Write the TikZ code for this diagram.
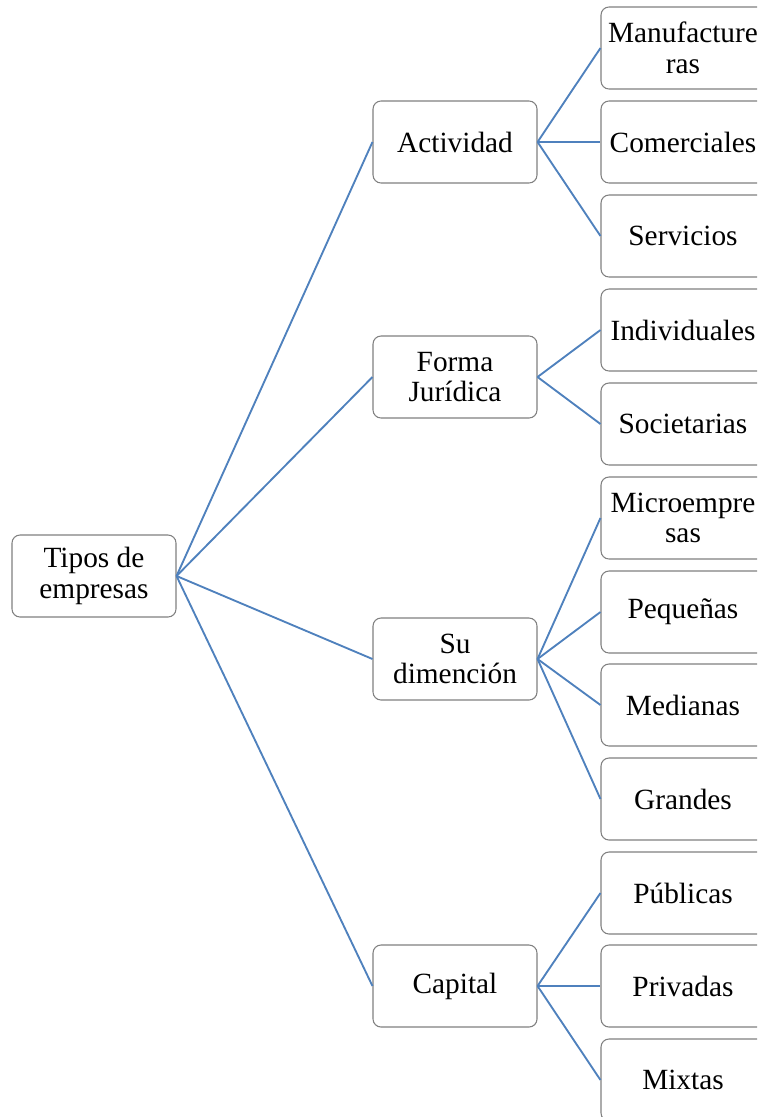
\documentclass[tikz,border=0pt]{standalone}
\usepackage{fontspec}
\setmainfont{Liberation Serif}
\usepackage{tikz}
\definecolor{linkblue}{RGB}{79, 129, 189}
\definecolor{boxgray}{RGB}{128, 128, 128}

\begin{document}
\begin{tikzpicture}[x=0.75pt, y=-0.75pt,
    box/.style={draw=boxgray, line width=0.8pt, rounded corners=6pt, fill=white,
        minimum width=123pt, minimum height=61.5pt, inner sep=0pt, align=center,
        font=\fontsize{22}{23}\selectfont},
    link/.style={draw=linkblue, line width=1.4pt}]
    \useasboundingbox (0,0) rectangle (757,1117);
    \clip (0,0) rectangle (757,1117);

    \node[box] (tipos) at (94,576) {Tipos de\\empresas};

    \node[box] (activ) at (455,142) {Actividad};
    \node[box] (forma) at (455,377) {Forma\\Jurídica};
    \node[box] (dimen) at (455,659) {Su\\dimención};
    \node[box] (capit) at (455,986) {Capital};

    \node[box] (manuf) at (683,48) {Manufacture\\ras};
    \node[box] (comer) at (683,142) {Comerciales};
    \node[box] (servi) at (683,236) {Servicios};
    \node[box] (indiv) at (683,330) {Individuales};
    \node[box] (socie) at (683,424) {Societarias};
    \node[box] (micro) at (683,518) {Microempre\\sas};
    \node[box] (peque) at (683,612) {Pequeñas};
    \node[box] (media) at (683,705) {Medianas};
    \node[box] (grand) at (683,799) {Grandes};
    \node[box] (publi) at (683,893) {Públicas};
    \node[box] (priva) at (683,986) {Privadas};
    \node[box] (mixta) at (683,1080) {Mixtas};

    \draw[link] (tipos.east) -- (activ.west);
    \draw[link] (tipos.east) -- (forma.west);
    \draw[link] (tipos.east) -- (dimen.west);
    \draw[link] (tipos.east) -- (capit.west);

    \draw[link] (activ.east) -- (manuf.west);
    \draw[link] (activ.east) -- (comer.west);
    \draw[link] (activ.east) -- (servi.west);

    \draw[link] (forma.east) -- (indiv.west);
    \draw[link] (forma.east) -- (socie.west);

    \draw[link] (dimen.east) -- (micro.west);
    \draw[link] (dimen.east) -- (peque.west);
    \draw[link] (dimen.east) -- (media.west);
    \draw[link] (dimen.east) -- (grand.west);

    \draw[link] (capit.east) -- (publi.west);
    \draw[link] (capit.east) -- (priva.west);
    \draw[link] (capit.east) -- (mixta.west);
\end{tikzpicture}
\end{document}
